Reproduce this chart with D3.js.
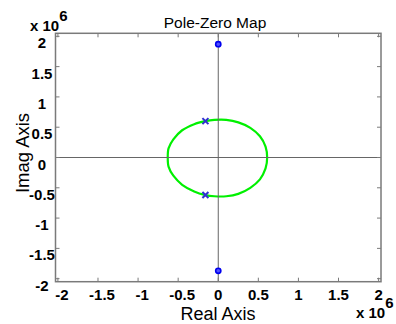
<!DOCTYPE html>
<html>
<head>
<meta charset="utf-8">
<script src="https://cdn.jsdelivr.net/npm/d3@7"></script>
<style>
    body { margin: 0; background: #fff; }
    svg { display: block; font-family: 'Liberation Sans', Arial, sans-serif; }
</style>
</head>
<body>
<svg width="396" height="324"></svg>
<script>
// tick values (in units of 1e6)
let xTicks = [-2, -1.5, -1, -0.5, 0, 0.5, 1, 1.5, 2];
let yTicks = [-2, -1.5, -1, -0.5, 0, 0.5, 1, 1.5, 2];

// poles and zeros (real, imag)
let poles = [[-0.16e6, 0.60e6], [-0.16e6, -0.62e6]];
let zeros = [[0, 1.87e6], [0, -1.87e6]];

// root locus branch
let locusRe = [-0.16, -0.05, 0.10, 0.25, 0.40, 0.52, 0.59, 0.61, 0.59, 0.52, 0.40, 0.25, 0.10, -0.05,
    -0.16, -0.30, -0.45, -0.56, -0.62, -0.63, -0.62, -0.56, -0.45, -0.30];
let locusIm = [0.60, 0.62, 0.62, 0.58, 0.49, 0.35, 0.18, 0.0, -0.18, -0.36, -0.50, -0.60, -0.64, -0.64,
    -0.62, -0.56, -0.45, -0.30, -0.15, 0.0, 0.15, 0.30, 0.45, 0.55];

document.addEventListener('DOMContentLoaded', function() {
    let svg = d3.select('svg');

    let left = 55.5, right = 381, top = 33.3, bottom = 281.7;

    let x = d3.scaleLinear().domain([-2.03e6, 2.03e6]).range([left, right]);
    let y = d3.scaleLinear().domain([-2.05e6, 2.05e6]).range([bottom, top]);

    let grey = '#7a7a7a';

    // locus
    let locus = locusRe.map(function(r, i) { return [r * 1e6, locusIm[i] * 1e6]; });
    svg.append('path')
        .datum(locus)
        .attr('d', d3.line()
            .x(function(d) { return x(d[0]); })
            .y(function(d) { return y(d[1]); })
            .curve(d3.curveCardinalClosed.tension(0.3)))
        .attr('fill', 'none')
        .attr('stroke', '#00f000')
        .attr('stroke-width', 2.2);

    // zero lines
    svg.append('line')
        .attr('x1', x(0)).attr('x2', x(0))
        .attr('y1', top).attr('y2', bottom)
        .attr('stroke', '#666').attr('stroke-width', 1);
    svg.append('line')
        .attr('x1', left).attr('x2', right)
        .attr('y1', y(0)).attr('y2', y(0))
        .attr('stroke', '#666').attr('stroke-width', 1);

    // frame
    svg.append('rect')
        .attr('x', left).attr('y', top)
        .attr('width', right - left).attr('height', bottom - top)
        .attr('fill', 'none')
        .attr('stroke', grey)
        .attr('stroke-width', 1.5);

    // ticks inside, all four sides
    let tl = 4;
    let ticks = svg.append('g').attr('stroke', grey).attr('stroke-width', 1);
    xTicks.forEach(function(t) {
        let px = x(t * 1e6);
        ticks.append('line').attr('x1', px).attr('x2', px).attr('y1', bottom).attr('y2', bottom - tl);
        ticks.append('line').attr('x1', px).attr('x2', px).attr('y1', top).attr('y2', top + tl);
    });
    yTicks.forEach(function(t) {
        let py = y(t * 1e6);
        ticks.append('line').attr('x1', left).attr('x2', left + tl).attr('y1', py).attr('y2', py);
        ticks.append('line').attr('x1', right).attr('x2', right - tl).attr('y1', py).attr('y2', py);
    });

    // tick labels
    svg.append('g')
        .selectAll('text')
        .data(xTicks)
        .join('text')
        .attr('x', function(d) { return x(d * 1e6) + (d < 0 ? 4 : 0); })
        .attr('y', 300)
        .attr('text-anchor', 'middle')
        .attr('font-size', 15)
        .attr('font-weight', 'bold')
        .text(function(d) { return d; });

    svg.append('g')
        .selectAll('text')
        .data(yTicks)
        .join('text')
        .attr('x', 42)
        .attr('y', function(d) { return y(d * 1e6) + 12; })
        .attr('text-anchor', 'middle')
        .attr('font-size', 15)
        .attr('font-weight', 'bold')
        .text(function(d) { return d; });

    // exponent labels (superscript as tspan)
    function expLabel(px, py) {
        let t = svg.append('text').attr('x', px).attr('y', py)
            .attr('font-size', 15).attr('font-weight', 'bold');
        t.append('tspan').text('x 10');
        t.append('tspan').attr('dy', -10).text('6');
    }
    expLabel(30, 31);
    expLabel(356, 318);

    // titles
    svg.append('text')
        .attr('x', 215).attr('y', 28)
        .attr('text-anchor', 'middle')
        .attr('font-size', 15.5)
        .text('Pole-Zero Map');
    svg.append('text')
        .attr('x', 218).attr('y', 320)
        .attr('text-anchor', 'middle')
        .attr('font-size', 18)
        .text('Real Axis');
    svg.append('text')
        .attr('transform', 'translate(29,153) rotate(-90)')
        .attr('text-anchor', 'middle')
        .attr('font-size', 18.5)
        .text('Imag Axis');

    // zeros
    svg.append('g')
        .selectAll('circle')
        .data(zeros)
        .join('circle')
        .attr('cx', function(d) { return x(d[0]); })
        .attr('cy', function(d) { return y(d[1]); })
        .attr('r', 2.6)
        .attr('fill', '#5050ff')
        .attr('stroke', '#0000ee')
        .attr('stroke-width', 1.6);

    // poles
    let s = 3;
    svg.append('g')
        .selectAll('path')
        .data(poles)
        .join('path')
        .attr('d', function(d) {
            let cx = x(d[0]), cy = y(d[1]);
            return 'M' + (cx - s) + ',' + (cy - s) + 'L' + (cx + s) + ',' + (cy + s) +
                'M' + (cx - s) + ',' + (cy + s) + 'L' + (cx + s) + ',' + (cy - s);
        })
        .attr('stroke', '#3030d0')
        .attr('stroke-width', 2);
});
</script>
</body>
</html>
